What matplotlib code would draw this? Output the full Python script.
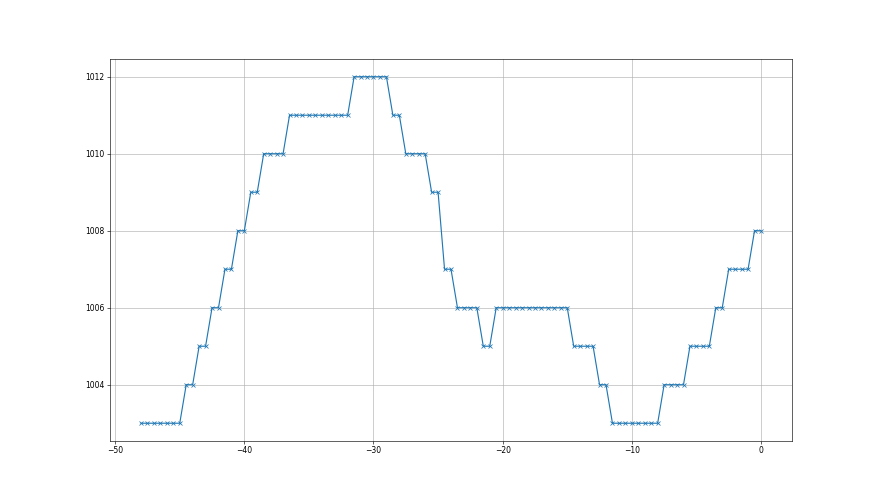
import numpy as np
import matplotlib
matplotlib.use("Agg")
import matplotlib.pyplot as plt

# Hours relative to now, every half hour
hours = np.arange(-48, 0.01, 0.5)

# Pressure values (hPa)
pressure = [
    1003, 1003, 1003, 1003, 1003, 1003, 1003,
    1004, 1004,
    1005, 1005,
    1006, 1006,
    1007, 1007,
    1008, 1008,
    1009, 1009,
    1010, 1010, 1010, 1010,
    1011, 1011, 1011, 1011, 1011, 1011, 1011, 1011, 1011, 1011,
    1012, 1012, 1012, 1012, 1012, 1012,
    1011, 1011,
    1010, 1010, 1010, 1010,
    1009, 1009,
    1007, 1007,
    1006, 1006, 1006, 1006,
    1005, 1005,
    1006, 1006, 1006, 1006, 1006, 1006, 1006, 1006, 1006, 1006, 1006, 1006,
    1005, 1005, 1005, 1005,
    1004, 1004,
    1003, 1003, 1003, 1003, 1003, 1003, 1003, 1003,
    1004, 1004, 1004, 1004,
    1005, 1005, 1005, 1005,
    1006, 1006,
    1007, 1007, 1007, 1007,
    1008, 1008,
]

xticks = [-50, -40, -30, -20, -10, 0]
yticks = [1004, 1006, 1008, 1010, 1012]

fig = plt.figure(figsize=(16, 9), dpi=55)
ax = fig.add_subplot(111)
ax.plot(hours, pressure, marker='x', color='C0')
ax.set_xticks(xticks)
ax.set_yticks(yticks)
ax.grid(True)
fig.savefig("out.png", dpi=55)
